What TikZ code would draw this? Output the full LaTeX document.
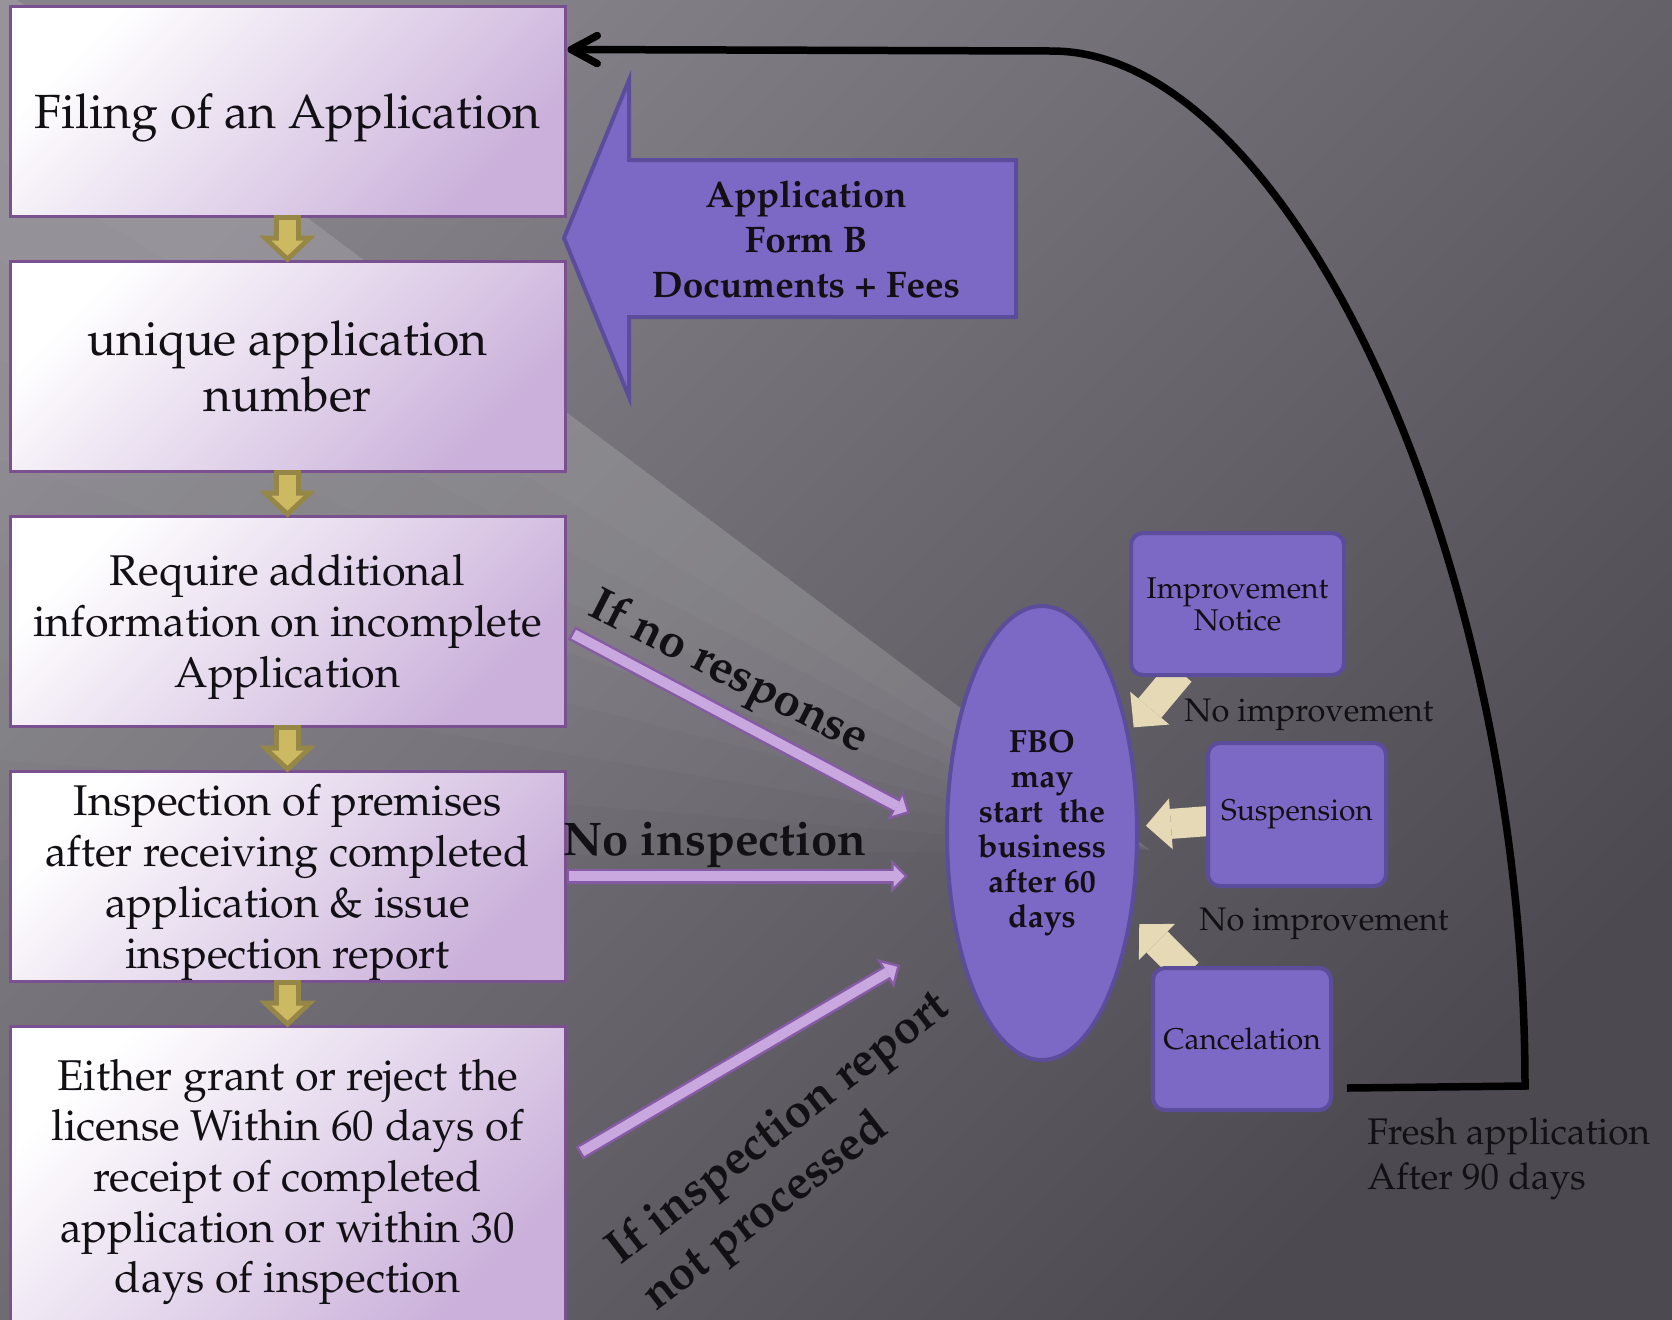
\documentclass[tikz,border=0pt]{standalone}
\usepackage[T1]{fontenc}
\renewcommand{\rmdefault}{ppl}
\usetikzlibrary{shapes.geometric,arrows.meta,calc,backgrounds}

\definecolor{bgtop}{RGB}{134,132,138}
\definecolor{bgbottom}{RGB}{76,74,80}
\definecolor{boxlav}{RGB}{202,176,218}
\definecolor{boxedge}{RGB}{122,80,145}
\definecolor{goldfill}{RGB}{205,185,98}
\definecolor{goldline}{RGB}{150,135,70}
\definecolor{slate}{RGB}{124,105,198}
\definecolor{slateedge}{RGB}{92,77,156}
\definecolor{cream}{RGB}{230,217,181}
\definecolor{lilac}{RGB}{200,168,222}
\definecolor{lilacedge}{RGB}{135,90,165}
\definecolor{ink}{RGB}{18,16,20}

\tikzset{
  stepbox/.style={rectangle, draw=boxedge, line width=1.5pt, top color=white, bottom color=boxlav, shading angle=45, minimum width=277.5pt, minimum height=105pt, inner sep=0pt, text depth=0pt, align=center, text=ink},
  notebox/.style={rectangle, rounded corners=6pt, draw=slateedge, line width=2pt, fill=slate, minimum width=89pt, minimum height=71pt, inner sep=0pt, align=center, text=ink, font=\fontsize{15}{16}\selectfont},
  fbobubble/.style={ellipse, draw=slateedge, line width=2pt, fill=slate, minimum width=95pt, minimum height=227pt, inner sep=0pt, align=center, text=ink, font=\fontsize{16}{17.5}\selectfont\bfseries},
  flowedge/.style={line width=13.5pt, draw=goldline, -{Triangle[length=13.5pt, width=28.5pt, line width=0pt]}, shorten <=-1.5pt, shorten >=-1.5pt},
  flowfill/.style={line width=8.5pt, draw=goldfill, -{Triangle[length=7.5pt, width=16pt, line width=0pt]}, shorten <=1pt, shorten >=1.95pt},
  linkedge/.style={line width=7.5pt, draw=lilacedge, -{Triangle[length=8.5pt, width=17pt, line width=0pt]}},
  linkfill/.style={line width=5pt, draw=lilac, -{Triangle[length=5.5pt, width=11pt, line width=0pt]}, shorten <=1.25pt, shorten >=1.75pt},
  notearrow/.style={line width=15pt, draw=cream, -{Triangle[length=12.5pt, width=25.5pt, line width=0pt]}},
  returnline/.style={line width=3.75pt, draw=black, -{Straight Barb[length=13pt, width=14pt, line cap=round, line join=round]}},
  linklabel/.style={inner sep=0pt, text=ink, font=\fontsize{23.6}{29}\selectfont\bfseries},
  notelabel/.style={inner sep=0pt, text=ink, font=\fontsize{16.3}{20}\selectfont},
  beam/.style={white, opacity=0.022}
}

\begin{document}
\begin{tikzpicture}[x=0.5pt, y=-0.5pt]
  \useasboundingbox (0,0) rectangle (1672,1319);
  \clip (0,0) rectangle (1672,1319);
  \begin{scope}[on background layer]
    \shade[top color=bgtop, bottom color=bgbottom, shading angle=45] (0,0) rectangle (1672,1319);
    \fill[beam] (0,-13) -- (1150,850) -- (0,160) -- cycle;
    \fill[beam] (0,-13) -- (1150,850) -- (0,260) -- cycle;
    \fill[beam] (0,-13) -- (1150,850) -- (0,360) -- cycle;
    \fill[beam] (0,-13) -- (1150,850) -- (0,460) -- cycle;
    \fill[beam] (0,-13) -- (1150,850) -- (0,560) -- cycle;
    \fill[beam] (0,-13) -- (1150,850) -- (0,660) -- cycle;
    \fill[beam] (0,-13) -- (1150,850) -- (0,760) -- cycle;
    \fill[beam] (0,-13) -- (1150,850) -- (0,860) -- cycle;
  \end{scope}

  \node[stepbox, font=\fontsize{24}{28.25}\selectfont] (b1) at (287.5,111) {Filing of an Application};
  \node[stepbox, font=\fontsize{24}{28.25}\selectfont] (b2) at (287.5,366) {unique application\\number};
  \node[stepbox, font=\fontsize{21.5}{25.5}\selectfont] (b3) at (287.5,621) {Require additional\\information on incomplete\\Application};
  \node[stepbox, font=\fontsize{21.5}{25.5}\selectfont] (b4) at (287.5,876) {Inspection of premises\\after receiving completed\\application \& issue\\inspection report};
  \node[stepbox, font=\fontsize{21.5}{25.3}\selectfont, minimum height=150pt] (b5) at (287.5,1176) {Either grant or reject the\\license Within 60 days of\\receipt of completed\\application or within 30\\days of inspection};

  \filldraw[fill=slate, draw=slateedge, line width=2pt] (564,238) -- (629,80) -- (629,160) -- (1016,160) -- (1016,317) -- (629,317) -- (629,397) -- cycle;
  \node[font=\fontsize{18.5}{22.5}\selectfont\bfseries, text=ink, align=center, inner sep=0pt] (forms) at (806,239) {Application\\Form B\\Documents + Fees};

  \node[fbobubble] (fbo) at (1042,833) {FBO\\may\\start~~the\\business\\after 60\\days};
  \node[notebox, minimum width=106.5pt] (notice) at (1237.5,604) {Improvement\\Notice};
  \node[notebox, minimum height=71.5pt] (susp) at (1297,814.5) {Suspension};
  \node[notebox] (cancel) at (1242,1039) {Cancelation};

  \draw[flowedge] (b1.south) -- (b2.north);
  \draw[flowfill] (b1.south) -- (b2.north);
  \draw[flowedge] (b2.south) -- (b3.north);
  \draw[flowfill] (b2.south) -- (b3.north);
  \draw[flowedge] (b3.south) -- (b4.north);
  \draw[flowfill] (b3.south) -- (b4.north);
  \draw[flowedge] (b4.south) -- (b5.north);
  \draw[flowfill] (b4.south) -- (b5.north);

  \draw[linkedge] ($(b3.east)+(5,12)$) -- ($(fbo.west)+(-35,-20)$);
  \draw[linkfill] ($(b3.east)+(5,12)$) -- ($(fbo.west)+(-35,-20)$);
  \draw[linkedge] (b4.east) -- ($(fbo.west)+(-37,43)$);
  \draw[linkfill] (b4.east) -- ($(fbo.west)+(-37,43)$);
  \draw[linkedge] ($(b5.east)+(13,-23)$) -- ($(fbo.west)+(-45,132)$);
  \draw[linkfill] ($(b5.east)+(13,-23)$) -- ($(fbo.west)+(-45,132)$);

  \node[linklabel, rotate=-27, anchor=base] (noreply) at (723,684) {If no response};
  \node[linklabel, anchor=base west] (novisit) at (563,855) {No inspection};
  \node[linklabel, rotate=37.5, align=left] (noreport) at (797,1153) {If inspection report\\not processed};

  \begin{scope}[on background layer]
    \draw[notearrow, shorten >=3.5pt] ($(notice.south)+(-57.5,-5)$) -- (fbo.49.6);
    \draw[notearrow, shorten >=3.5pt] ($(susp.west)+(10,6)$) -- (fbo.4);
    \draw[notearrow, shorten >=5pt] ($(cancel.north)+(-54,7)$) -- (fbo.-43.7);
  \end{scope}
  \node[notelabel, anchor=base west] (noimp1) at (1184,721) {No improvement};
  \node[notelabel, anchor=base west] (noimp2) at (1199,930) {No improvement};

  \draw[returnline] ($(cancel.south east)+(14,-24)$) -- (1525,1086) .. controls (1525,560) and (1290,51) .. (1052,51) -- ($(b1.north east)+(1,45)$);
  \node[inner sep=0pt, text=ink, align=left, anchor=north west, font=\fontsize{18.5}{22.5}\selectfont] (fresh) at (1367,1117) {Fresh application\\After 90 days};
\end{tikzpicture}
\end{document}
